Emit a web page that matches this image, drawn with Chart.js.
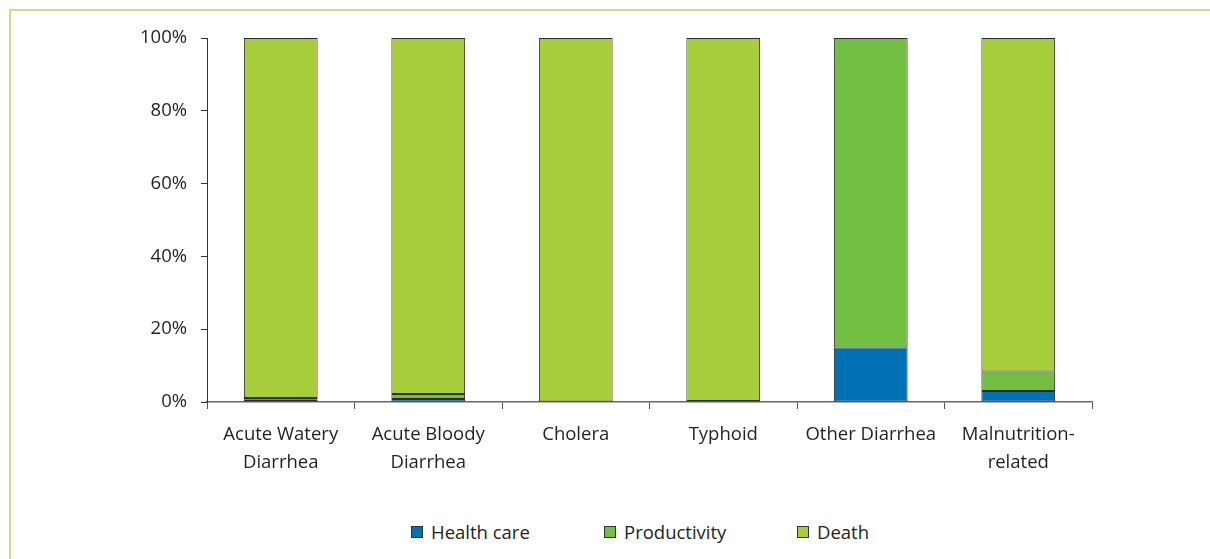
<!DOCTYPE html>
<html>
<head>
<meta charset="utf-8">
<script src="https://cdn.jsdelivr.net/npm/chart.js@4"></script>
<style>
  html, body { margin: 0; padding: 0; background: #fff; }
  body { width: 1210px; height: 559px; position: relative; overflow: hidden; font-family: "Open Sans", sans-serif; }
  #frame { position: absolute; left: 9px; top: 9px; right: -5px; bottom: -5px; border-top: 2px solid #c7df85; border-left: 2px solid #c7df85; }
  #wrap { position: absolute; left: 0; top: 0; width: 1210px; height: 500px; }
  #legend { position: absolute; left: 411px; top: 519px; display: flex; }
  #legend .item { width: 193px; display: flex; align-items: center; font-size: 18.5px; color: #231f20; }
  #legend .box { width: 10px; height: 10px; border: 1px solid #333; margin-right: 8px; }
</style>
</head>
<body>
<div id="frame"></div>
<div id="wrap"><canvas id="myChart" width="1210" height="500"></canvas></div>
<div id="legend"></div>
<script>
var categories = [["Acute Watery", "Diarrhea"], ["Acute Bloody", "Diarrhea"], "Cholera", "Typhoid", "Other Diarrhea", ["Malnutrition-", "related"]];
var healthCare = [0.6, 0.8, 0, 0, 15, 3];
var productivity = [0.5, 1.4, 0, 0.3, 85, 5.4];
var death = [98.9, 97.8, 100, 99.7, 0, 91.6];
var yTicks = [0, 20, 40, 60, 80, 100];

var names = ["Health care", "Productivity", "Death"];
var colors = ["#0071b4", "#72bf44", "#a7cd3a"];
var series = [healthCare, productivity, death];

var datasets = [];
for (var i = 0; i < series.length; i++) {
    datasets.push({
        label: names[i],
        data: series[i],
        backgroundColor: colors[i],
        borderColor: "#2b2b2b",
        borderWidth: 1,
        borderSkipped: false,
        categoryPercentage: 1.0,
        barPercentage: 0.5
    });
}

var txt = "#231f20";
var ctx = document.getElementById("myChart").getContext("2d");
var myChart = new Chart(ctx, {
    type: "bar",
    data: { labels: categories, datasets: datasets },
    options: {
        responsive: false,
        animation: false,
        layout: { padding: { left: 0, right: 118, top: 38, bottom: 0 } },
        plugins: { legend: { display: false }, tooltip: { enabled: false } },
        scales: {
            x: {
                stacked: true,
                grid: { display: true, drawOnChartArea: false, tickLength: 7, color: "#555", offset: true },
                border: { display: true, color: "#666", width: 1.5 },
                ticks: { color: txt, padding: 11, maxRotation: 0, font: { family: "Open Sans", size: 18.5, lineHeight: 1.55 } },
                afterFit: function (s) { s.height = 98; }
            },
            y: {
                stacked: true,
                min: 0,
                max: 100,
                afterBuildTicks: function (s) { s.ticks = yTicks.map(function (v) { return { value: v }; }); },
                grid: { display: true, drawOnChartArea: false, tickLength: 6, color: "#333" },
                border: { display: true, color: "#333", width: 1 },
                ticks: {
                    color: txt, padding: 14,
                    font: { family: "Open Sans", size: 18.5 },
                    callback: function (v) { return v + "%"; }
                },
                afterFit: function (s) { s.width = 207; }
            }
        }
    }
});

var leg = document.getElementById("legend");
for (var j = 0; j < names.length; j++) {
    var it = document.createElement("div");
    it.className = "item";
    var b = document.createElement("span");
    b.className = "box";
    b.style.background = colors[j];
    var t = document.createElement("span");
    t.innerText = names[j];
    it.appendChild(b);
    it.appendChild(t);
    leg.appendChild(it);
}
</script>
</body>
</html>
